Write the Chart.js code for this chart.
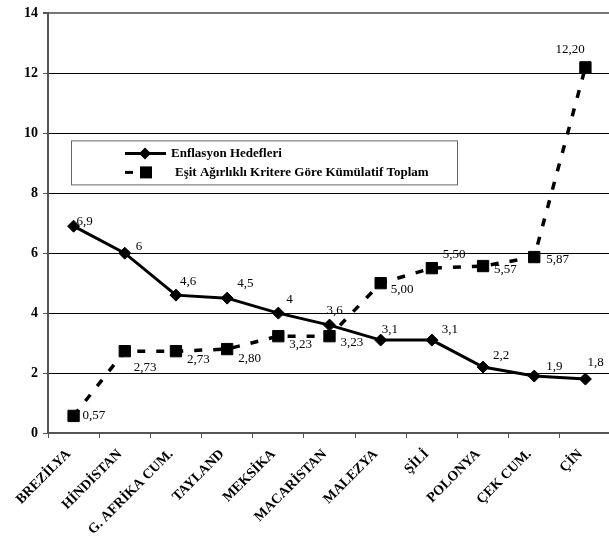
<!DOCTYPE html>
<html>
<head>
<meta charset="utf-8">
<script src="https://cdn.jsdelivr.net/npm/chart.js@4.4.0/dist/chart.umd.min.js"></script>
<style>
  html, body { margin: 0; padding: 0; background: #fff; overflow: hidden; }
  #wrap { width: 620px; height: 541px; }
</style>
</head>
<body>
<div id="wrap"><canvas id="chart"></canvas></div>
<script>
// Countries along the x axis
const countries = ['BREZİLYA', 'HİNDİSTAN', 'G. AFRİKA CUM.', 'TAYLAND', 'MEKSİKA', 'MACARİSTAN', 'MALEZYA', 'ŞİLİ', 'POLONYA', 'ÇEK CUM.', 'ÇİN'];

// Series values
const inflationTargets = [6.9, 6, 4.6, 4.5, 4, 3.6, 3.1, 3.1, 2.2, 1.9, 1.8];
const cumulativeTotals = [0.57, 2.73, 2.73, 2.80, 3.23, 3.23, 5.00, 5.50, 5.57, 5.87, 12.20];

// Y axis tick values
const yTicks = [0, 2, 4, 6, 8, 10, 12, 14];

const seriesNames = ['Enflasyon Hedefleri', 'Eşit Ağırlıklı Kritere Göre Kümülatif Toplam'];

// Nudge of each value label from its point (dx to left edge, dy to middle)
const targetLabelOffsets = [[3, -5], [11, -7], [4, -14], [10, -15], [8, -14], [-3, -15], [1, -11], [10, -11], [10, -11], [12, -9], [2, -16]];
const totalLabelOffsets = [[9, 0], [9, 16], [11, 8], [11, 9], [11, 8], [11, 6], [10, 6], [11, -14], [11, 4], [12, 3], [-30, -18]];

const SERIF = '"Liberation Serif", "Times New Roman", serif';

// Turkish decimal comma
function fmtTarget(v) { return String(v).replace('.', ','); }
function fmtTotal(v) { return v.toFixed(2).replace('.', ','); }

// Draw the number next to every point
const valueLabels = {
    id: 'valueLabels',
    afterDatasetsDraw(chart) {
        const ctx = chart.ctx;
        ctx.save();
        ctx.font = '13px ' + SERIF;
        ctx.fillStyle = '#000';
        ctx.textAlign = 'left';
        ctx.textBaseline = 'middle';
        const sets = [
            { values: inflationTargets, offsets: targetLabelOffsets, fmt: fmtTarget },
            { values: cumulativeTotals, offsets: totalLabelOffsets, fmt: fmtTotal }
        ];
        sets.forEach((s, i) => {
            chart.getDatasetMeta(i).data.forEach((pt, j) => {
                ctx.fillText(s.fmt(s.values[j]), pt.x + s.offsets[j][0], pt.y + s.offsets[j][1]);
            });
        });
        ctx.restore();
    }
};

// Boxed legend inside the plot, like the original
const boxLegend = {
    id: 'boxLegend',
    afterDraw(chart) {
        const ctx = chart.ctx;
        const a = chart.chartArea;
        const x = a.left + 23, y = a.top + 127, w = 386, h = 44;
        ctx.save();
        ctx.fillStyle = '#fff';
        ctx.fillRect(x, y, w, h);
        ctx.strokeStyle = '#666';
        ctx.lineWidth = 1;
        ctx.strokeRect(x + 0.5, y + 0.5, w, h);

        ctx.fillStyle = '#000';
        ctx.strokeStyle = '#000';
        ctx.lineWidth = 3;

        // row 1: solid line with diamond
        let ry = y + 13;
        ctx.beginPath();
        ctx.moveTo(x + 54, ry);
        ctx.lineTo(x + 95, ry);
        ctx.stroke();
        ctx.beginPath();
        ctx.moveTo(x + 74, ry - 6);
        ctx.lineTo(x + 80, ry);
        ctx.lineTo(x + 74, ry + 6);
        ctx.lineTo(x + 68, ry);
        ctx.closePath();
        ctx.fill();

        // row 2: dash with square
        let ry2 = y + 32;
        ctx.beginPath();
        ctx.moveTo(x + 54, ry2);
        ctx.lineTo(x + 62, ry2);
        ctx.stroke();
        ctx.fillRect(x + 69, ry2 - 6, 12, 12);

        ctx.font = 'bold 13px ' + SERIF;
        ctx.textAlign = 'left';
        ctx.textBaseline = 'middle';
        ctx.fillText(seriesNames[0], x + 100, ry);
        ctx.fillText(seriesNames[1], x + 104, ry2);
        ctx.restore();
    }
};

new Chart(document.getElementById('chart'), {
    type: 'line',
    data: {
        labels: countries,
        datasets: [{
            label: seriesNames[0],
            data: inflationTargets,
            borderColor: '#000',
            backgroundColor: '#000',
            borderWidth: 3,
            pointStyle: 'rectRot',
            pointRadius: 6,
            pointBorderWidth: 1,
            pointBackgroundColor: '#000',
            pointBorderColor: '#000',
            tension: 0,
            fill: false
        }, {
            label: seriesNames[1],
            data: cumulativeTotals,
            borderColor: '#000',
            backgroundColor: '#000',
            borderWidth: 3.5,
            borderDash: [8, 11],
            pointStyle: 'rect',
            pointRadius: 8,
            pointBorderWidth: 1,
            pointBackgroundColor: '#000',
            pointBorderColor: '#000',
            tension: 0,
            fill: false
        }]
    },
    options: {
        responsive: true,
        maintainAspectRatio: false,
        animation: false,
        layout: { padding: { top: 10, right: 2, left: 0, bottom: 0 } },
        plugins: {
            legend: { display: false },
            tooltip: { enabled: false }
        },
        scales: {
            x: {
                type: 'category',
                offset: true,
                grid: {
                    offset: true,
                    drawOnChartArea: false,
                    drawTicks: true,
                    tickLength: 5,
                    color: '#555'
                },
                border: { color: '#555', width: 2 },
                ticks: {
                    color: '#000',
                    font: { family: SERIF, size: 14, weight: 'bold' },
                    maxRotation: 45,
                    minRotation: 45,
                    autoSkip: false,
                    padding: 8,
                    labelOffset: -5
                },
                afterFit(scale) { scale.height = 108; }
            },
            y: {
                min: 0,
                max: 14,
                afterBuildTicks(scale) {
                    scale.ticks = yTicks.map(v => ({ value: v }));
                },
                grid: {
                    color: c => (c.tick && c.tick.value === 14) ? '#777' : '#000',
                    lineWidth: c => (c.tick && c.tick.value === 14) ? 2 : 1,
                    tickLength: 5,
                    tickColor: '#555'
                },
                border: { color: '#555', width: 2 },
                ticks: {
                    color: '#000',
                    font: { family: SERIF, size: 14, weight: 'bold' },
                    padding: 5
                },
                afterFit(scale) { scale.width = 48; }
            }
        }
    },
    plugins: [valueLabels, boxLegend]
});
</script>
</body>
</html>
